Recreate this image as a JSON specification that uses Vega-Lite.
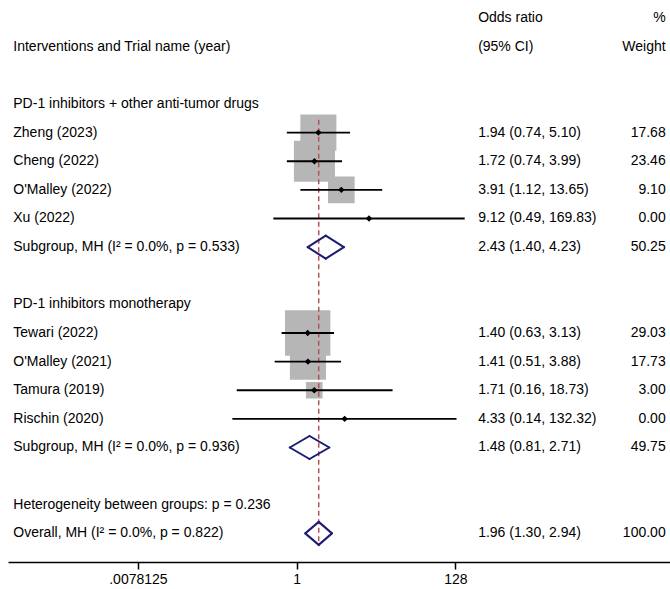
{
  "$schema": "https://vega.github.io/schema/vega-lite/v6.json",
  "width": 662,
  "height": 562,
  "padding": {"left": 8, "top": 0, "right": 0, "bottom": 0},
  "background": "white",
  "config": {
    "view": {"stroke": null},
    "font": "Liberation Sans",
    "text": {"font": "Liberation Sans", "fontSize": 14, "color": "#000000", "baseline": "middle"}
  },
  "data": {
    "values": [
      {"row": -3, "kind": "header", "label": "", "ci": "Odds ratio", "wt": "%"},
      {"row": -2, "kind": "header", "label": "Interventions and Trial name (year)", "ci": "(95% CI)", "wt": "Weight"},
      {"row": 0, "kind": "group", "label": "PD-1 inhibitors + other anti-tumor drugs"},
      {"row": 1, "kind": "study", "label": "Zheng (2023)", "or": 1.94, "lo": 0.74, "hi": 5.10, "weight": 17.68, "ci": "1.94 (0.74, 5.10)", "wt": "17.68"},
      {"row": 2, "kind": "study", "label": "Cheng (2022)", "or": 1.72, "lo": 0.74, "hi": 3.99, "weight": 23.46, "ci": "1.72 (0.74, 3.99)", "wt": "23.46"},
      {"row": 3, "kind": "study", "label": "O'Malley (2022)", "or": 3.91, "lo": 1.12, "hi": 13.65, "weight": 9.10, "ci": "3.91 (1.12, 13.65)", "wt": "9.10"},
      {"row": 4, "kind": "study", "label": "Xu (2022)", "or": 9.12, "lo": 0.49, "hi": 169.83, "weight": 0.00, "ci": "9.12 (0.49, 169.83)", "wt": "0.00"},
      {"row": 5, "kind": "pooled", "label": "Subgroup, MH (I² = 0.0%, p = 0.533)", "or": 2.43, "lo": 1.40, "hi": 4.23, "weight": 50.25, "ci": "2.43 (1.40, 4.23)", "wt": "50.25"},
      {"row": 7, "kind": "group", "label": "PD-1 inhibitors monotherapy"},
      {"row": 8, "kind": "study", "label": "Tewari (2022)", "or": 1.40, "lo": 0.63, "hi": 3.13, "weight": 29.03, "ci": "1.40 (0.63, 3.13)", "wt": "29.03"},
      {"row": 9, "kind": "study", "label": "O'Malley (2021)", "or": 1.41, "lo": 0.51, "hi": 3.88, "weight": 17.73, "ci": "1.41 (0.51, 3.88)", "wt": "17.73"},
      {"row": 10, "kind": "study", "label": "Tamura (2019)", "or": 1.71, "lo": 0.16, "hi": 18.73, "weight": 3.00, "ci": "1.71 (0.16, 18.73)", "wt": "3.00"},
      {"row": 11, "kind": "study", "label": "Rischin (2020)", "or": 4.33, "lo": 0.14, "hi": 132.32, "weight": 0.00, "ci": "4.33 (0.14, 132.32)", "wt": "0.00"},
      {"row": 12, "kind": "pooled", "label": "Subgroup, MH (I² = 0.0%, p = 0.936)", "or": 1.48, "lo": 0.81, "hi": 2.71, "weight": 49.75, "ci": "1.48 (0.81, 2.71)", "wt": "49.75"},
      {"row": 14, "kind": "note", "label": "Heterogeneity between groups: p = 0.236"},
      {"row": 15, "kind": "overall", "label": "Overall, MH (I² = 0.0%, p = 0.822)", "or": 1.96, "lo": 1.30, "hi": 2.94, "weight": 100.00, "ci": "1.96 (1.30, 2.94)", "wt": "100.00"}
    ]
  },
  "encoding": {
    "y": {
      "field": "row",
      "type": "quantitative",
      "scale": {"domain": [-3.633, 16], "reverse": true, "nice": false, "zero": false},
      "axis": null
    }
  },
  "layer": [
    {
      "data": {"values": [{}]},
      "mark": {"type": "rule", "color": "#c4c4c4", "strokeWidth": 1.2},
      "encoding": {"y": {"datum": -0.77, "type": "quantitative"}}
    },
    {
      "data": {"values": [{}]},
      "mark": {"type": "rule", "color": "#000000", "strokeWidth": 1.3},
      "encoding": {
        "x": {
          "datum": 1,
          "type": "quantitative",
          "scale": {"type": "log", "base": 2, "domain": [0.00014729, 90146], "nice": false},
          "axis": {
            "title": null,
            "grid": false,
            "values": [0.0078125, 1, 128],
            "labelExpr": "datum.value < 1 ? slice(format(datum.value, '~r'), 1) : format(datum.value, '~r')",
            "domainColor": "#000000",
            "domainWidth": 1.5,
            "tickColor": "#000000",
            "tickWidth": 1.5,
            "tickSize": 7,
            "labelFontSize": 14,
            "labelColor": "#000000",
            "labelFont": "Liberation Sans",
            "labelPadding": 3
          }
        },
        "y": {"datum": -0.77, "type": "quantitative"},
        "y2": {"datum": 16}
      }
    },
    {
      "transform": [{"filter": "datum.kind === 'study' && datum.weight > 0"}],
      "mark": {"type": "square", "color": "#b6b6b6", "opacity": 1, "stroke": "#b6b6b6", "strokeWidth": 2.9},
      "encoding": {
        "x": {"field": "or", "type": "quantitative"},
        "size": {
          "field": "weight",
          "type": "quantitative",
          "scale": {"type": "linear", "domain": [0, 100], "range": [0, 6210], "zero": true},
          "legend": null
        }
      }
    },
    {
      "transform": [{"filter": "datum.kind === 'overall'"}],
      "mark": {"type": "rule", "color": "#b5525b", "strokeWidth": 1.5, "strokeDash": [5, 3.5]},
      "encoding": {
        "x": {"field": "or", "type": "quantitative"},
        "y": {"datum": 0.55, "type": "quantitative"},
        "y2": {"datum": 15.45}
      }
    },
    {
      "transform": [{"filter": "datum.kind === 'study'"}],
      "mark": {"type": "rule", "color": "#000000", "strokeWidth": 1.8},
      "encoding": {
        "x": {"field": "lo", "type": "quantitative"},
        "x2": {"field": "hi"}
      }
    },
    {
      "transform": [{"filter": "datum.kind === 'study'"}],
      "mark": {"type": "point", "shape": "diamond", "filled": true, "color": "#000000", "size": 42, "opacity": 1},
      "encoding": {"x": {"field": "or", "type": "quantitative"}}
    },
    {
      "transform": [{"filter": "datum.kind === 'pooled' || datum.kind === 'overall'"}],
      "mark": {"type": "rule", "color": "#1b1b74", "strokeWidth": 2, "strokeCap": "round", "y2Offset": -11.5},
      "encoding": {
        "x": {"field": "lo", "type": "quantitative"},
        "x2": {"field": "or"},
        "y2": {"field": "row"}
      }
    },
    {
      "transform": [{"filter": "datum.kind === 'pooled' || datum.kind === 'overall'"}],
      "mark": {"type": "rule", "color": "#1b1b74", "strokeWidth": 2, "strokeCap": "round", "y2Offset": 11.5},
      "encoding": {
        "x": {"field": "lo", "type": "quantitative"},
        "x2": {"field": "or"},
        "y2": {"field": "row"}
      }
    },
    {
      "transform": [{"filter": "datum.kind === 'pooled' || datum.kind === 'overall'"}],
      "mark": {"type": "rule", "color": "#1b1b74", "strokeWidth": 2, "strokeCap": "round", "yOffset": -11.5},
      "encoding": {
        "x": {"field": "or", "type": "quantitative"},
        "x2": {"field": "hi"},
        "y2": {"field": "row"}
      }
    },
    {
      "transform": [{"filter": "datum.kind === 'pooled' || datum.kind === 'overall'"}],
      "mark": {"type": "rule", "color": "#1b1b74", "strokeWidth": 2, "strokeCap": "round", "yOffset": 11.5},
      "encoding": {
        "x": {"field": "or", "type": "quantitative"},
        "x2": {"field": "hi"},
        "y2": {"field": "row"}
      }
    },
    {
      "transform": [{"filter": "datum.label !== ''"}],
      "mark": {"type": "text", "align": "left"},
      "encoding": {
        "x": {"datum": 0.0001731, "type": "quantitative"},
        "text": {"field": "label"}
      }
    },
    {
      "transform": [{"filter": "isValid(datum.ci)"}],
      "mark": {"type": "text", "align": "left"},
      "encoding": {
        "x": {"datum": 256, "type": "quantitative"},
        "text": {"field": "ci"}
      }
    },
    {
      "transform": [{"filter": "isValid(datum.wt)"}],
      "mark": {"type": "text", "align": "right"},
      "encoding": {
        "x": {"datum": 79000, "type": "quantitative"},
        "text": {"field": "wt"}
      }
    }
  ]
}
